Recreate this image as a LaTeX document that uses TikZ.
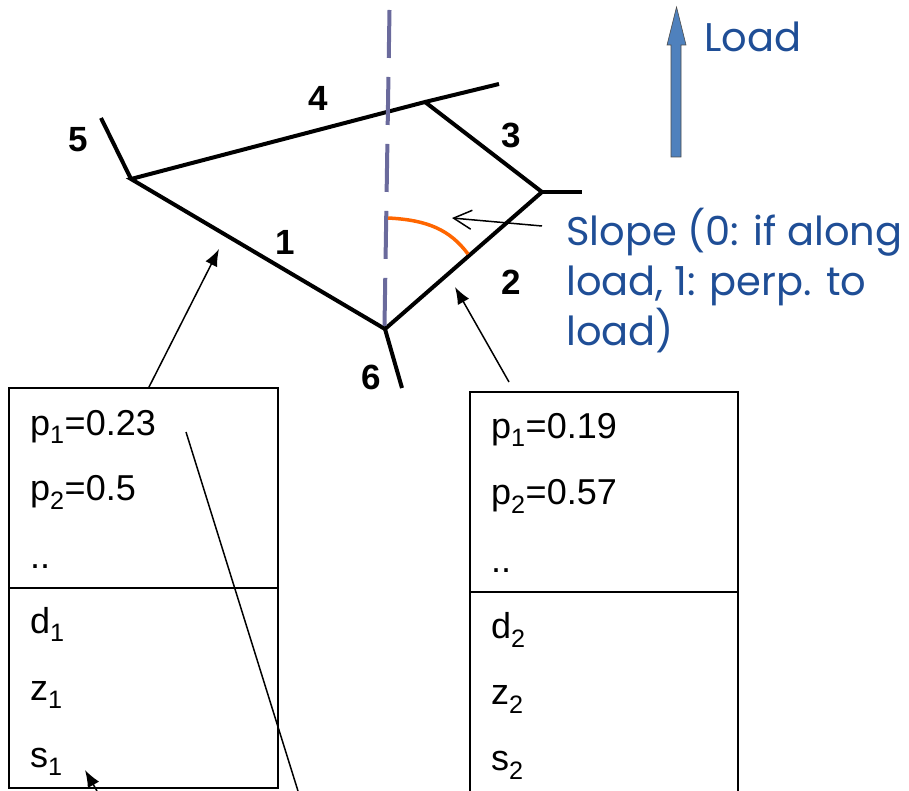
\documentclass[tikz,border=0pt]{standalone}
\usepackage{fontspec}
\setmainfont{Liberation Sans}
\newfontfamily\gothicfont{Poppins}
\usetikzlibrary{arrows.meta}
\definecolor{loadblue}{HTML}{4F81BD}
\definecolor{textblue}{HTML}{1F4E96}
\definecolor{axisgray}{HTML}{6A6A9C}
\definecolor{slopeorange}{HTML}{FF6600}

\begin{document}
\begin{tikzpicture}[
  x=1pt, y=-1pt,
  member/.style={line width=4pt, line join=miter},
  axis/.style={line width=4pt, axisgray, dash pattern=on 48pt off 19pt},
  numlabel/.style={inner sep=0, font=\fontsize{35}{38}\selectfont\bfseries},
  boxline/.style={line width=1.8pt},
  boxtext/.style={anchor=base west, inner sep=0, font=\fontsize{36}{40}\selectfont},
  bluetext/.style={inner sep=0, textblue, font=\gothicfont\fontsize{40}{50}\selectfont},
  arrow/.style={-{Latex[length=17pt,width=13pt]}, line width=1.5pt},
  pointer/.style={-{Straight Barb[length=18pt,width=19pt]}, line width=1.5pt}
]
\useasboundingbox (0,0) rectangle (909,791);

\coordinate (v5) at (131,179);
\coordinate (v4) at (425,102);
\coordinate (v3) at (542,192);
\coordinate (v6) at (385,329);
\coordinate (e5) at (101,118);
\coordinate (e4) at (499,84);
\coordinate (e3) at (582,192);
\coordinate (e6) at (402,388);

\draw[member] (v5) -- (v4) -- (v3) -- (v6) -- cycle;
\draw[member] (v5) -- (e5);
\draw[member] (v4) -- (e4);
\draw[member] (v3) -- (e3);
\draw[member] (v6) -- (e6);

\coordinate (axtop) at (389.5,10);
\coordinate (axbot) at (384.5,326);
\draw[axis] (axtop) -- (axbot);

\coordinate (arcs) at (388,218);
\coordinate (arce) at (468,254);
\draw[slopeorange, line width=3.5pt] (arcs) .. controls (428,220) and (450,230) .. (arce);

\node[numlabel] (n5) at (78,140) {5};
\node[numlabel] (n4) at (318,98) {4};
\node[numlabel] (n3) at (511,135) {3};
\node[numlabel] (n1) at (285,242) {1};
\node[numlabel] (n2) at (511,282) {2};
\node[numlabel] (n6) at (371,377) {6};

\draw[fill=loadblue, draw=black!70, line width=0.6pt] (671,157) -- (671,45) -- (667,45) -- (676.5,7) -- (686,45) -- (681,45) -- (681,157) -- cycle;
\node[bluetext, anchor=base west] (load) at (704,52) {Load};

\node[bluetext, anchor=north west, align=left] (slope) at (566,208) {Slope (0: if along\\load, 1: perp. to\\load)};
\coordinate (slopetail) at (542,226);
\coordinate (slopetip) at (452,218);
\draw[pointer] (slopetail) -- (slopetip);

\draw[boxline] (9,388) rectangle (278,788);
\draw[boxline] (9,588) -- (278,588);
\node[boxtext] (pa1) at (30,435) {p\textsubscript{1}=0.23};
\node[boxtext] (pa2) at (30,500) {p\textsubscript{2}=0.5};
\node[boxtext] (dotsa) at (30,568) {..};
\node[boxtext] (da) at (30,633) {d\textsubscript{1}};
\node[boxtext] (za) at (30,700) {z\textsubscript{1}};
\node[boxtext] (sa) at (30,767) {s\textsubscript{1}};

\draw[boxline] (470,791) |- (738,392) -- (738,791);
\draw[boxline] (470,592) -- (738,592);
\node[boxtext] (pb1) at (491,438) {p\textsubscript{1}=0.19};
\node[boxtext] (pb2) at (491,504) {p\textsubscript{2}=0.57};
\node[boxtext] (dotsb) at (491,572) {..};
\node[boxtext] (db) at (491,638) {d\textsubscript{2}};
\node[boxtext] (zb) at (491,704) {z\textsubscript{2}};
\node[boxtext] (sb) at (491,770) {s\textsubscript{2}};

\coordinate (boxatop) at (148.5,388);
\coordinate (tip1) at (219,249);
\coordinate (boxbtop) at (509,382);
\coordinate (tip2) at (455,287);
\draw[arrow] (boxatop) -- (tip1);
\draw[arrow] (boxbtop) -- (tip2);

\coordinate (linetop) at (186,432);
\coordinate (linebot) at (298,791);
\draw[line width=1.5pt] (linetop) -- (linebot);
\coordinate (sabot) at (97,791);
\coordinate (satip) at (85,770);
\draw[arrow] (sabot) -- (satip);

\end{tikzpicture}
\end{document}
